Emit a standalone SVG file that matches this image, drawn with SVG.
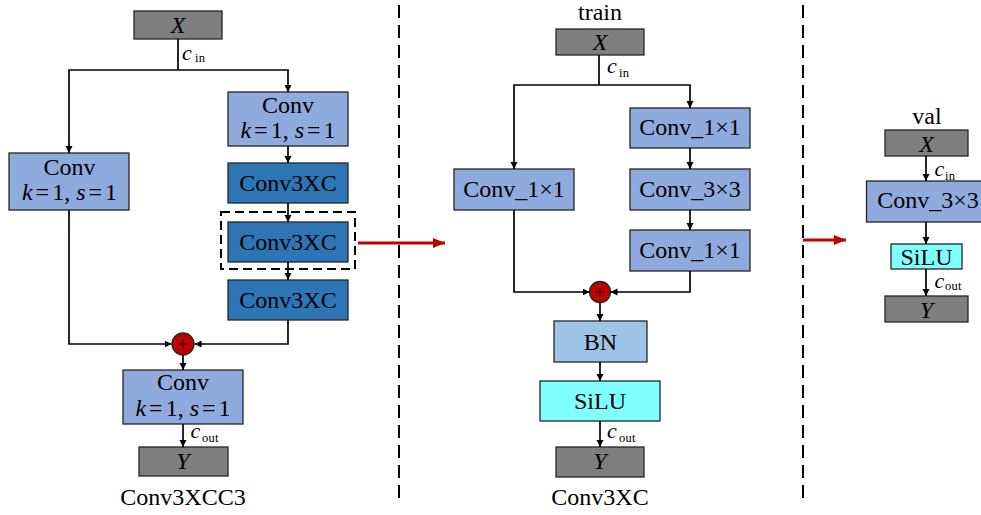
<svg xmlns="http://www.w3.org/2000/svg" width="981" height="515" viewBox="0 0 981 515">
<defs>
<marker id="ah" markerUnits="userSpaceOnUse" markerWidth="8" markerHeight="8" refX="7" refY="3.5" orient="auto"><path d="M0,0 L7,3.5 L0,7 z" fill="#000"/></marker>
<marker id="rh" markerUnits="userSpaceOnUse" markerWidth="14" markerHeight="12" refX="12" refY="5" orient="auto"><path d="M0,0 L12,5 L0,10 z" fill="#c00000"/></marker>
</defs>
<style>
text{font-family:"Liberation Serif","Times New Roman",serif;fill:#000;}
.t{font-size:24px;text-anchor:middle;}
.i{font-style:italic;}
.n{font-style:normal;}
.s{font-size:12.5px;letter-spacing:0.3px;}
.c{font-size:22px;font-style:italic;}
.io{fill:#7f7f7f;stroke:#262626;stroke-width:1.3;}
.lb{fill:#8faadc;stroke:#262626;stroke-width:1.3;}
.db{fill:#2e75b6;stroke:#262626;stroke-width:1.3;}
.bn{fill:#9dc3e6;stroke:#262626;stroke-width:1.3;}
.si{fill:#80ffff;stroke:#262626;stroke-width:1.3;}
.add{fill:#c00000;stroke:#262626;stroke-width:1.3;}
.ln{fill:none;stroke:#000;stroke-width:1.7;}
.ar{fill:none;stroke:#000;stroke-width:1.7;marker-end:url(#ah);}
.sep{fill:none;stroke:#000;stroke-width:2;stroke-dasharray:13 7;}
.red{fill:none;stroke:#c00000;stroke-width:3;marker-end:url(#rh);}
</style>

<g id="separators">
<path class="sep" d="M399 5 V505"/>
<path class="sep" d="M803 5 V505"/>
</g>

<!-- Left panel: Conv3XCC3 -->
<g id="L_X"><rect class="io" x="134" y="11" width="88" height="28"/><text class="t i" x="178" y="33">X</text></g>
<g id="L_conv_right"><rect class="lb" x="228" y="92" width="120" height="54"/><text class="t" x="288" y="112.5">Conv</text><text class="t i" x="288" y="137.5">k<tspan class="n" dx="3">=</tspan><tspan class="n" dx="3">1, </tspan>s<tspan class="n" dx="3">=</tspan><tspan class="n" dx="3">1</tspan></text></g>
<g id="L_conv_left"><rect class="lb" x="9" y="153" width="120" height="57"/><text class="t" x="69.5" y="175">Conv</text><text class="t i" x="69.5" y="200">k<tspan class="n" dx="3">=</tspan><tspan class="n" dx="3">1, </tspan>s<tspan class="n" dx="3">=</tspan><tspan class="n" dx="3">1</tspan></text></g>
<g id="L_c3xc_1"><rect class="db" x="228" y="163" width="120" height="40"/><text class="t" x="288" y="190.5">Conv3XC</text></g>
<g id="L_dashbox"><rect x="221" y="212" width="134" height="57" fill="none" stroke="#000" stroke-width="2" stroke-dasharray="9 5"/></g>
<g id="L_c3xc_2"><rect class="db" x="228" y="222" width="120" height="40"/><text class="t" x="288" y="249.5">Conv3XC</text></g>
<g id="L_c3xc_3"><rect class="db" x="228" y="280" width="120" height="40"/><text class="t" x="288" y="307.5">Conv3XC</text></g>
<g id="L_add"><circle class="add" cx="183" cy="344" r="11"/><path d="M178.5 344 H187.5 M183 339.5 V348.5" stroke="#000" stroke-width="0.9"/></g>
<g id="L_conv_out"><rect class="lb" x="123" y="370" width="120" height="54"/><text class="t" x="183" y="389.5">Conv</text><text class="t i" x="183" y="415.5">k<tspan class="n" dx="3">=</tspan><tspan class="n" dx="3">1, </tspan>s<tspan class="n" dx="3">=</tspan><tspan class="n" dx="3">1</tspan></text></g>
<g id="L_Y"><rect class="io" x="139" y="447" width="89" height="29"/><text class="t i" x="183" y="468.5">Y</text></g>
<text class="t" x="183" y="505">Conv3XCC3</text>

<!-- Middle panel: Conv3XC -->
<text class="t" x="600" y="20">train</text>
<g id="M_X"><rect class="io" x="556" y="29" width="88" height="26"/><text class="t i" x="600" y="49.5">X</text></g>
<g id="M_conv1"><rect class="lb" x="630" y="108" width="120" height="40"/><text class="t" x="690" y="135">Conv_1×1</text></g>
<g id="M_conv3"><rect class="lb" x="630" y="169" width="120" height="41"/><text class="t" x="690" y="196.5">Conv_3×3</text></g>
<g id="M_conv1b"><rect class="lb" x="630" y="230" width="120" height="41"/><text class="t" x="690" y="257.5">Conv_1×1</text></g>
<g id="M_convL"><rect class="lb" x="454" y="169" width="120" height="41"/><text class="t" x="514" y="196.5">Conv_1×1</text></g>
<g id="M_add"><circle class="add" cx="600" cy="292" r="10.5"/><path d="M595.5 292 H604.5 M600 287.5 V296.5" stroke="#000" stroke-width="0.9"/></g>
<g id="M_BN"><rect class="bn" x="554" y="321" width="93" height="41"/><text class="t" x="600.5" y="350">BN</text></g>
<g id="M_SiLU"><rect class="si" x="540" y="381" width="120" height="40"/><text class="t" x="600" y="408.5">SiLU</text></g>
<g id="M_Y"><rect class="io" x="556" y="447" width="88" height="30" stroke-width="2.2"/><text class="t i" x="600" y="469">Y</text></g>
<text class="t" x="600" y="505">Conv3XC</text>

<!-- Right panel: val -->
<text class="t" x="927" y="124">val</text>
<g id="R_X"><rect class="io" x="885" y="130" width="83" height="26"/><text class="t i" x="926.5" y="152">X</text></g>
<g id="R_conv3"><rect class="lb" x="866.5" y="181" width="125" height="41"/><text class="t" x="928" y="207.5">Conv_3×3</text></g>
<g id="R_SiLU"><rect class="si" x="891" y="244" width="71" height="25"/><text class="t" x="926.5" y="264.5">SiLU</text></g>
<g id="R_Y"><rect class="io" x="885" y="296" width="83" height="26"/><text class="t i" x="926.5" y="318">Y</text></g>

<g id="connectors">
<path class="ln" d="M178 39 V70"/>
<path class="ar" d="M178 70 H69 V153"/>
<path class="ar" d="M178 70 H288 V92"/>
<path class="ar" d="M288 146 V163"/>
<path class="ar" d="M288 203 V222"/>
<path class="ar" d="M288 262 V280"/>
<path class="ar" d="M288 320 V344 H194.5"/>
<path class="ar" d="M69 210 V344 H171.5"/>
<path class="ar" d="M183 355 V370"/>
<path class="ar" d="M183 424 V447"/>
<path class="ln" d="M599 55 V85"/>
<path class="ar" d="M599 85 H514 V169"/>
<path class="ar" d="M599 85 H690 V108"/>
<path class="ar" d="M690 148 V169"/>
<path class="ar" d="M690 210 V230"/>
<path class="ar" d="M690 271 V292 H610.5"/>
<path class="ar" d="M514 210 V292 H589.5"/>
<path class="ar" d="M600 302.5 V321"/>
<path class="ar" d="M600 362 V381"/>
<path class="ar" d="M600 421 V447"/>
<path class="ar" d="M926 156 V181"/>
<path class="ar" d="M926 222 V244"/>
<path class="ar" d="M926 269 V296"/>
<path class="red" d="M358 243 H445"/>
<path class="red" d="M803 240 H846"/>
</g>

<g id="labels">
<text class="c" x="182" y="60">c</text><text class="s" x="195" y="61.5">in</text>
<text class="c" x="607" y="73">c</text><text class="s" x="619" y="76.5">in</text>
<text class="c" x="190.5" y="438">c</text><text class="s" x="202" y="442">out</text>
<text class="c" x="607" y="438">c</text><text class="s" x="619" y="442">out</text>
<text class="c" x="934.5" y="176" font-size="20">c</text><text class="s" x="945" y="179.5">in</text>
<text class="c" x="934.5" y="287.5" font-size="20">c</text><text class="s" x="945" y="290">out</text>
</g>
</svg>
